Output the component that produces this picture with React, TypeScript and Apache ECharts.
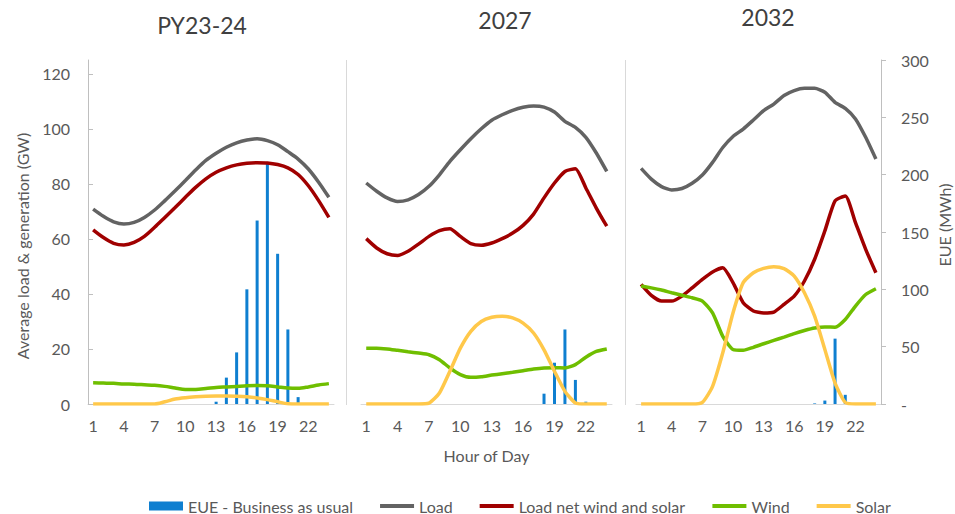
import React, { useEffect, useRef } from "react";
import * as echarts from "echarts";

// Hour-of-day categories shared by all three panels
const hours: string[] = Array.from({ length: 24 }, (_, i) => String(i + 1));

const panelTitles = ["PY23-24", "2027", "2032"];

// PY23-24 (GW, EUE in MWh)
const load2324 = [70.8, 68.2, 66.2, 65.4, 66.0, 67.8, 70.5, 73.9, 77.5, 81.2, 85.0, 88.5, 91.1, 93.3, 94.9, 95.9, 96.4, 95.7, 94.2, 91.7, 89.0, 85.4, 80.6, 75.1];
const net2324 = [63.3, 60.5, 58.4, 57.8, 58.7, 60.9, 64.2, 67.8, 71.4, 75.1, 78.7, 81.8, 84.2, 85.8, 86.9, 87.5, 87.7, 87.6, 87.0, 85.8, 83.4, 79.3, 73.9, 67.8];
const wind2324 = [7.7, 7.6, 7.5, 7.3, 7.2, 7.0, 6.8, 6.4, 5.8, 5.3, 5.3, 5.6, 6.0, 6.2, 6.4, 6.6, 6.7, 6.6, 6.2, 5.8, 5.7, 6.2, 6.9, 7.4];
const solar2324 = [0, 0, 0, 0, 0, 0, 0, 0.8, 1.8, 2.3, 2.6, 2.8, 2.9, 2.9, 2.8, 2.6, 2.2, 1.6, 0.8, 0.1, 0, 0, 0, 0];
const eue2324 = [0, 0, 0, 0, 0, 0, 0, 0, 0, 0, 0, 0, 2, 23, 45, 100, 160, 210, 131, 65, 6, 0, 0, 0];

// 2027
const load2027 = [80.3, 77.3, 74.9, 73.6, 74.2, 76.1, 79.1, 83.3, 88.2, 92.4, 96.4, 100.0, 103.1, 105.1, 106.7, 107.8, 108.3, 107.9, 106.1, 102.7, 100.5, 96.9, 91.2, 84.5];
const net2027 = [60.1, 56.7, 54.6, 54.0, 55.5, 58.1, 60.9, 63.0, 63.7, 60.9, 58.3, 57.7, 58.5, 60.1, 62.1, 64.9, 69.0, 74.9, 80.3, 84.5, 85.5, 78.5, 71.2, 64.6];
const wind2027 = [20.3, 20.3, 20.0, 19.5, 19.0, 18.5, 17.9, 16.1, 13.1, 10.7, 9.7, 9.9, 10.5, 11.0, 11.5, 12.1, 12.7, 13.1, 13.2, 13.1, 14.3, 17.0, 19.1, 20.0];
const solar2027 = [0, 0, 0, 0, 0, 0, 0.3, 4.0, 11.9, 20.3, 26.4, 30.0, 31.5, 31.9, 31.3, 29.4, 25.8, 19.7, 11.9, 4.6, 0.4, 0, 0, 0];
const eue2027 = [0, 0, 0, 0, 0, 0, 0, 0, 0, 0, 0, 0, 0, 0, 0, 0, 0, 9, 36, 65, 21, 2, 0, 0];

// 2032
const load2032 = [85.6, 81.7, 79.0, 77.8, 78.3, 80.2, 83.2, 87.8, 93.2, 97.2, 99.9, 103.2, 106.6, 109.0, 112.1, 113.9, 114.7, 114.7, 113.3, 109.6, 107.4, 103.6, 96.9, 89.0];
const net2032 = [43.5, 39.5, 37.4, 37.4, 39.2, 42.2, 45.3, 48.0, 49.5, 44.1, 36.8, 33.8, 33.1, 33.4, 36.2, 39.2, 44.7, 52.6, 62.9, 73.8, 75.6, 65.9, 56.2, 47.7];
const wind2032 = [42.9, 42.2, 41.4, 40.4, 39.5, 38.6, 37.4, 33.1, 24.6, 19.8, 19.5, 20.6, 21.9, 23.1, 24.3, 25.6, 26.7, 27.6, 28.0, 27.9, 30.7, 35.6, 39.8, 41.9];
const solar2032 = [0, 0, 0, 0, 0, 0, 0.6, 6.4, 18.6, 33.1, 44.1, 47.7, 49.3, 49.9, 49.2, 46.5, 40.4, 31.9, 19.8, 7.6, 0.6, 0, 0, 0];
const eue2032 = [0, 0, 0, 0, 0, 0, 0, 0, 0, 0, 0, 0, 0, 0, 0, 0, 0, 0.5, 3, 57, 8, 0, 0, 0];

const panels = [
  { load: load2324, net: net2324, wind: wind2324, solar: solar2324, eue: eue2324, smooth: 0.3 },
  { load: load2027, net: net2027, wind: wind2027, solar: solar2027, eue: eue2027, smooth: 0.2 },
  { load: load2032, net: net2032, wind: wind2032, solar: solar2032, eue: eue2032, smooth: 0.2 },
];

const NAME_EUE = "EUE - Business as usual";
const NAME_LOAD = "Load";
const NAME_NET = "Load net wind and solar";
const NAME_WIND = "Wind";
const NAME_SOLAR = "Solar";

const COLORS = {
  eue: "#0f7fd0",
  load: "#636363",
  net: "#a00000",
  wind: "#6fbe00",
  solar: "#ffc84a",
};

const TEXT = "#595959";
const FONT = "Lato, 'Liberation Sans', sans-serif";

// Plot-area geometry for the three panels
const gridBoxes = [
  { left: 88, width: 246 },
  { left: 361, width: 251 },
  { left: 636, width: 245 },
];
const GRID_TOP = 60;
const GRID_HEIGHT = 344;

// thin bar used as the legend key of the line series
const LINE_ICON = "path://M0 0H34V4H0Z";

export default function App() {
  const ref = useRef<HTMLDivElement>(null);

  useEffect(() => {
    if (!ref.current) return;
    const chart = echarts.init(ref.current, null, { renderer: "svg" });

    const grids = gridBoxes.map((g) => ({
      left: g.left,
      top: GRID_TOP,
      width: g.width,
      height: GRID_HEIGHT,
    }));

    const xAxes = gridBoxes.map((_, i) => ({
      type: "category" as const,
      gridIndex: i,
      data: hours,
      boundaryGap: true,
      axisLine: { show: true, lineStyle: { color: "#d9d9d9", width: 1 } },
      axisTick: { show: false },
      axisLabel: {
        interval: 2,
        color: TEXT,
        fontSize: 16,
        fontFamily: FONT,
        margin: 13,
      },
      name: i === 1 ? "Hour of Day" : "",
      nameLocation: "middle" as const,
      nameGap: 43,
      nameTextStyle: { color: TEXT, fontSize: 16, fontFamily: FONT },
    }));

    const yAxes: any[] = [];
    gridBoxes.forEach((_, i) => {
      // GW axis
      yAxes.push({
        type: "value",
        gridIndex: i,
        position: "left",
        min: 0,
        max: 125,
        interval: 20,
        show: i === 0,
        splitLine: { show: false },
        axisLine: { show: true, lineStyle: { color: "#bfbfbf", width: 1 } },
        axisTick: { show: true, inside: true, length: 5, lineStyle: { color: "#bfbfbf" } },
        axisLabel: {
          color: TEXT,
          fontSize: 16,
          fontFamily: FONT,
          margin: 18,
          showMaxLabel: false,
        },
      });
      // EUE axis
      yAxes.push({
        type: "value",
        gridIndex: i,
        position: "right",
        min: 0,
        max: 300,
        interval: 50,
        show: i === 2,
        splitLine: { show: false },
        axisLine: { show: true, lineStyle: { color: "#bfbfbf", width: 1 } },
        axisTick: { show: true, inside: false, length: 5, lineStyle: { color: "#bfbfbf" } },
        axisLabel: {
          color: TEXT,
          fontSize: 16,
          fontFamily: FONT,
          margin: 20,
          formatter: (v: number) => (v === 0 ? "-" : String(v)),
        },
      });
    });

    const series: any[] = [];
    panels.forEach((p, i) => {
      const gw = i * 2;
      const mwh = i * 2 + 1;
      series.push({
        name: NAME_EUE,
        type: "bar",
        xAxisIndex: i,
        yAxisIndex: mwh,
        data: p.eue,
        barWidth: 3,
        itemStyle: { color: COLORS.eue },
        z: 1,
      });
      const line = (name: string, data: number[], color: string, z: number) => ({
        name,
        type: "line",
        xAxisIndex: i,
        yAxisIndex: gw,
        data,
        smooth: p.smooth,
        symbol: "none",
        lineStyle: { color, width: 3.5 },
        itemStyle: { color },
        z,
      });
      series.push(line(NAME_LOAD, p.load, COLORS.load, 2));
      series.push(line(NAME_NET, p.net, COLORS.net, 3));
      series.push(line(NAME_WIND, p.wind, COLORS.wind, 4));
      series.push(line(NAME_SOLAR, p.solar, COLORS.solar, 5));
    });

    const titleStyle = { fill: "#404040", fontSize: 23, fontFamily: FONT };
    const graphic: any[] = [
      {
        type: "text",
        x: 202,
        y: 25,
        style: { ...titleStyle, text: panelTitles[0], align: "center", verticalAlign: "middle" },
      },
      {
        type: "text",
        x: 505,
        y: 20,
        style: { ...titleStyle, text: panelTitles[1], align: "center", verticalAlign: "middle" },
      },
      {
        type: "text",
        x: 768,
        y: 17,
        style: { ...titleStyle, text: panelTitles[2], align: "center", verticalAlign: "middle" },
      },
      {
        type: "text",
        x: 22,
        y: 246,
        rotation: Math.PI / 2,
        style: {
          text: "Average load & generation (GW)",
          fill: TEXT,
          fontSize: 16,
          fontFamily: FONT,
          align: "center",
          verticalAlign: "middle",
        },
      },
      {
        type: "text",
        x: 944,
        y: 225,
        rotation: Math.PI / 2,
        style: {
          text: "EUE (MWh)",
          fill: TEXT,
          fontSize: 16,
          fontFamily: FONT,
          align: "center",
          verticalAlign: "middle",
        },
      },
      // panel dividers
      {
        type: "line",
        shape: { x1: 346.5, y1: 60, x2: 346.5, y2: 405 },
        style: { stroke: "#d9d9d9", lineWidth: 1 },
      },
      {
        type: "line",
        shape: { x1: 625.5, y1: 60, x2: 625.5, y2: 405 },
        style: { stroke: "#d9d9d9", lineWidth: 1 },
      },
    ];

    chart.setOption({
      animation: false,
      backgroundColor: "#ffffff",
      grid: grids,
      xAxis: xAxes,
      yAxis: yAxes,
      series,
      graphic,
      legend: {
        left: 144,
        top: 493,
        itemWidth: 34,
        itemHeight: 9,
        itemGap: 27,
        symbolKeepAspect: true,
        textStyle: { color: TEXT, fontSize: 16, fontFamily: FONT },
        data: [
          { name: NAME_EUE, icon: "rect" },
          { name: NAME_LOAD, icon: LINE_ICON },
          { name: NAME_NET, icon: LINE_ICON },
          { name: NAME_WIND, icon: LINE_ICON },
          { name: NAME_SOLAR, icon: LINE_ICON },
        ],
      },
    });

    return () => chart.dispose();
  }, []);

  return <div ref={ref} style={{ width: 955, height: 514, position: "absolute", left: 0, top: 0 }} />;
}
